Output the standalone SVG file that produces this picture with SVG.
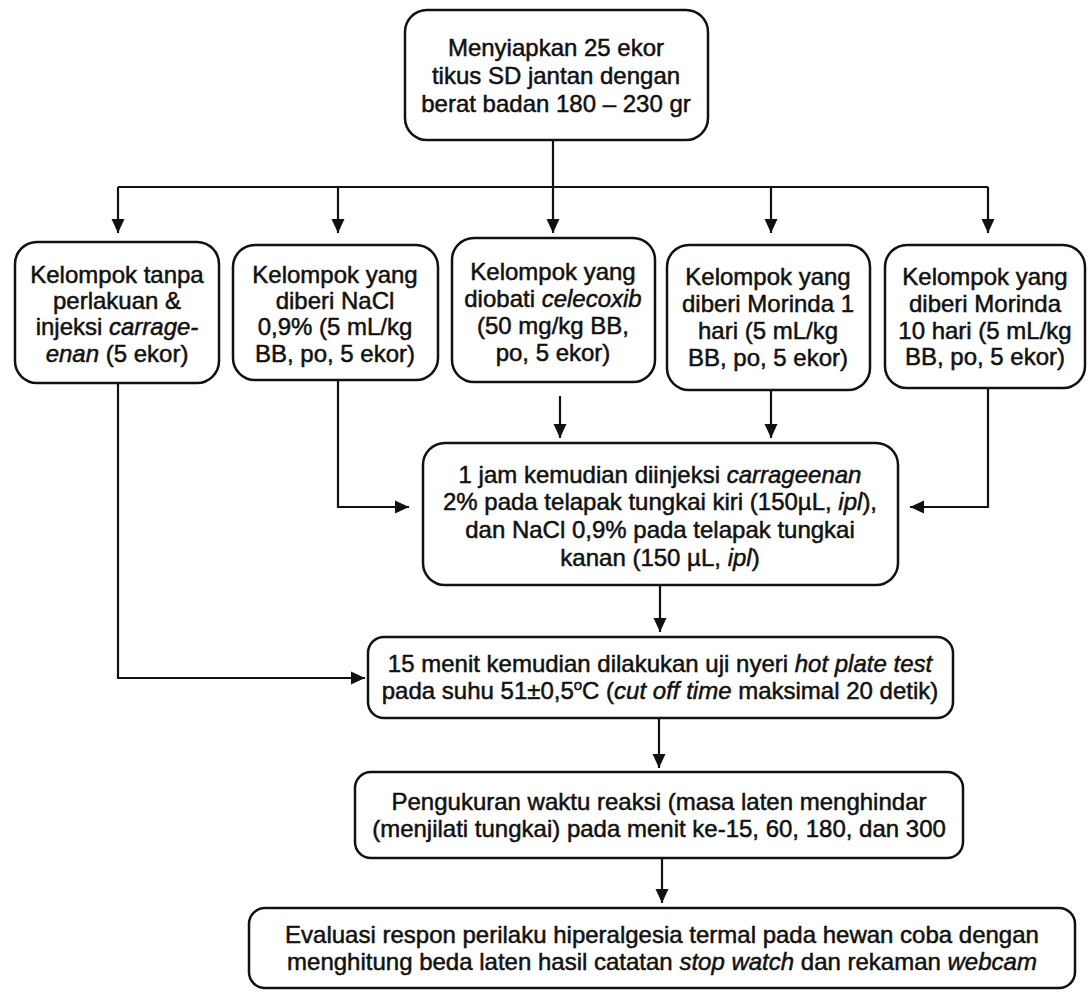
<svg xmlns="http://www.w3.org/2000/svg" width="1089" height="992" viewBox="0 0 1089 992">
<defs>
<marker id="ah" markerUnits="userSpaceOnUse" markerWidth="14" markerHeight="16" viewBox="0 0 14 16" refX="14" refY="8" orient="auto">
<path d="M0,1.5 L14,8 L0,14.5 Z" fill="#111"/>
</marker>
<style>
.box{fill:none;stroke:#111;stroke-width:2.5}
.t{font-family:"Liberation Sans",Arial,sans-serif;font-size:24px;fill:#111;stroke:#111;stroke-width:0.5;text-anchor:middle}
.i{font-style:italic}
.c{fill:none;stroke:#111;stroke-width:2.2}
</style>
</defs>
<rect width="1089" height="992" fill="#fff"/>
<g id="connectors">
<path class="c" d="M553,140 V187"/>
<path class="c" d="M118,187 H988"/>
<path class="c" d="M118,187 V233" marker-end="url(#ah)"/>
<path class="c" d="M338,187 V233" marker-end="url(#ah)"/>
<path class="c" d="M553,187 V233" marker-end="url(#ah)"/>
<path class="c" d="M771,187 V233" marker-end="url(#ah)"/>
<path class="c" d="M988,187 V233" marker-end="url(#ah)"/>
<path class="c" d="M118,383 V678 H365" marker-end="url(#ah)"/>
<path class="c" d="M338,380 V507 H409" marker-end="url(#ah)"/>
<path class="c" d="M560,396 V438" marker-end="url(#ah)"/>
<path class="c" d="M771,390 V438" marker-end="url(#ah)"/>
<path class="c" d="M988,388 V507 H910" marker-end="url(#ah)"/>
<path class="c" d="M660,585 V632" marker-end="url(#ah)"/>
<path class="c" d="M659,718 V768" marker-end="url(#ah)"/>
<path class="c" d="M662,858 V903" marker-end="url(#ah)"/>
</g>
<g id="n-start">
<rect class="box" x="405" y="10" width="303" height="130" rx="22"/>
<text class="t" x="556" y="56">Menyiapkan 25 ekor</text>
<text class="t" x="556" y="84">tikus SD jantan dengan</text>
<text class="t" x="556" y="112">berat badan 180 – 230 gr</text>
</g>
<g id="n-g1">
<rect class="box" x="15" y="242" width="204" height="141" rx="22"/>
<text class="t" x="117" y="283">Kelompok tanpa</text>
<text class="t" x="117" y="309">perlakuan &amp;</text>
<text class="t" x="117" y="335">injeksi <tspan class="i">carrage-</tspan></text>
<text class="t" x="117" y="362"><tspan class="i">enan</tspan> (5 ekor)</text>
</g>
<g id="n-g2">
<rect class="box" x="233" y="245" width="205" height="135" rx="22"/>
<text class="t" x="335" y="283">Kelompok yang</text>
<text class="t" x="335" y="309">diberi NaCl</text>
<text class="t" x="335" y="335">0,9% (5 mL/kg</text>
<text class="t" x="335" y="362">BB, po, 5 ekor)</text>
</g>
<g id="n-g3">
<rect class="box" x="452" y="238" width="203" height="144" rx="22"/>
<text class="t" x="553" y="280">Kelompok yang</text>
<text class="t" x="553" y="307">diobati <tspan class="i">celecoxib</tspan></text>
<text class="t" x="553" y="334">(50 mg/kg BB,</text>
<text class="t" x="553" y="361">po, 5 ekor)</text>
</g>
<g id="n-g4">
<rect class="box" x="667" y="245" width="203" height="145" rx="22"/>
<text class="t" x="768" y="285">Kelompok yang</text>
<text class="t" x="768" y="312">diberi Morinda 1</text>
<text class="t" x="768" y="339">hari (5 mL/kg</text>
<text class="t" x="768" y="366">BB, po, 5 ekor)</text>
</g>
<g id="n-g5">
<rect class="box" x="885" y="245" width="200" height="143" rx="22"/>
<text class="t" x="985" y="285">Kelompok yang</text>
<text class="t" x="985" y="312">diberi Morinda</text>
<text class="t" x="985" y="339">10 hari (5 mL/kg</text>
<text class="t" x="985" y="365">BB, po, 5 ekor)</text>
</g>
<g id="n-inject">
<rect class="box" x="423" y="443" width="475" height="142" rx="22"/>
<text class="t" x="660" y="483">1 jam kemudian diinjeksi <tspan class="i">carrageenan</tspan></text>
<text class="t" x="660" y="510">2% pada telapak tungkai kiri (150µL, <tspan class="i">ipl</tspan>),</text>
<text class="t" x="660" y="538">dan NaCl 0,9% pada telapak tungkai</text>
<text class="t" x="660" y="566">kanan (150 µL, <tspan class="i">ipl</tspan>)</text>
</g>
<g id="n-hotplate">
<rect class="box" x="368" y="637" width="585" height="81" rx="16"/>
<text class="t" x="660" y="672">15 menit kemudian dilakukan uji nyeri <tspan class="i">hot plate test</tspan></text>
<text class="t" x="660" y="699">pada suhu 51±0,5<tspan font-size="15" dy="-9">o</tspan><tspan dy="9">C (</tspan><tspan class="i">cut off time</tspan> maksimal 20 detik)</text>
</g>
<g id="n-measure">
<rect class="box" x="355" y="772" width="608" height="86" rx="16"/>
<text class="t" x="659" y="810">Pengukuran waktu reaksi (masa laten menghindar</text>
<text class="t" x="659" y="837">(menjilati tungkai) pada menit ke-15, 60, 180, dan 300</text>
</g>
<g id="n-eval">
<rect class="box" x="249" y="908" width="826" height="80" rx="16"/>
<text class="t" x="662" y="943">Evaluasi respon perilaku hiperalgesia termal pada hewan coba dengan</text>
<text class="t" x="662" y="970">menghitung beda laten hasil catatan <tspan class="i">stop watch</tspan> dan rekaman <tspan class="i">webcam</tspan></text>
</g>
</svg>
